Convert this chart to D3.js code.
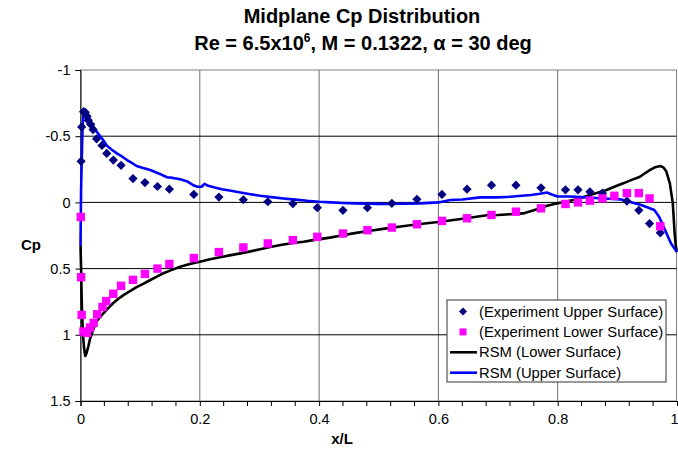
<!DOCTYPE html>
<html>
<head>
<meta charset="utf-8">
<script src="https://cdn.jsdelivr.net/npm/d3@7"></script>
<style>
    body { margin: 0; background: #fff; }
    svg { font-family: Arial, "Liberation Sans", sans-serif; }
</style>
</head>
<body>
<svg id="chart"></svg>
<script>
// Experiment, upper surface (diamonds)
const expUpperX = [0.001, 0.002, 0.005, 0.008, 0.011, 0.013, 0.017, 0.021, 0.027, 0.036, 0.044, 0.055, 0.068,
    0.088, 0.108, 0.129, 0.149, 0.19, 0.232, 0.273, 0.314, 0.356, 0.397, 0.44, 0.481, 0.522, 0.564, 0.606,
    0.648, 0.689, 0.73, 0.772, 0.813, 0.834, 0.854, 0.875, 0.916, 0.936, 0.954, 0.972];
const expUpperCp = [-0.31, -0.57, -0.685, -0.68, -0.65, -0.62, -0.59, -0.55, -0.48, -0.43, -0.37, -0.32, -0.28,
    -0.18, -0.15, -0.12, -0.10, -0.06, -0.04, -0.02, -0.005, 0.01, 0.04, 0.06, 0.04, 0.007, -0.023, -0.06,
    -0.10, -0.13, -0.13, -0.11, -0.095, -0.095, -0.08, -0.07, -0.01, 0.06, 0.16, 0.23];

// Experiment, lower surface (squares)
const expLowerX = [0.0005, 0.001, 0.002, 0.005, 0.011, 0.016, 0.022, 0.028, 0.037, 0.043, 0.055, 0.068, 0.088,
    0.108, 0.129, 0.149, 0.19, 0.232, 0.273, 0.314, 0.356, 0.397, 0.44, 0.481, 0.522, 0.564, 0.606, 0.648,
    0.689, 0.73, 0.772, 0.813, 0.834, 0.854, 0.875, 0.895, 0.916, 0.936, 0.954, 0.972];
const expLowerCp = [0.11, 0.565, 0.85, 0.975, 0.985, 0.945, 0.91, 0.845, 0.79, 0.745, 0.69, 0.63, 0.585,
    0.54, 0.5, 0.465, 0.42, 0.375, 0.34, 0.31, 0.285, 0.26, 0.235, 0.21, 0.19, 0.165, 0.14, 0.12,
    0.095, 0.07, 0.045, 0.012, 0, -0.013, -0.03, -0.05, -0.07, -0.07, -0.03, 0.18];

// RSM, lower surface (black line)
const rsmLowerX = [0, 0.001, 0.002, 0.004, 0.006, 0.008, 0.01, 0.013, 0.016, 0.019, 0.023, 0.027, 0.032, 0.038,
    0.046, 0.055, 0.063, 0.072, 0.083, 0.094, 0.105, 0.117, 0.128, 0.139, 0.15, 0.167, 0.183, 0.2, 0.217,
    0.234, 0.25, 0.268, 0.285, 0.301, 0.318, 0.34, 0.36, 0.374, 0.39, 0.418, 0.44, 0.457, 0.48, 0.513,
    0.54, 0.569, 0.6, 0.625, 0.65, 0.681, 0.7, 0.72, 0.742, 0.76, 0.782, 0.8, 0.81, 0.826, 0.84, 0.854,
    0.868, 0.882, 0.896, 0.91, 0.924, 0.938, 0.946, 0.955, 0.963, 0.972, 0.977, 0.982, 0.988, 0.993,
    0.996, 0.998, 1];
const rsmLowerCp = [0.33, 0.5, 0.74, 0.99, 1.1, 1.16, 1.14, 1.09, 1.03, 0.99, 0.94, 0.9, 0.87, 0.84,
    0.8, 0.76, 0.73, 0.7, 0.67, 0.64, 0.615, 0.586, 0.56, 0.535, 0.515, 0.486, 0.465, 0.448, 0.43,
    0.415, 0.4, 0.385, 0.37, 0.354, 0.337, 0.318, 0.305, 0.297, 0.285, 0.266, 0.248, 0.234, 0.218, 0.196,
    0.18, 0.163, 0.148, 0.133, 0.118, 0.097, 0.095, 0.09, 0.083, 0.06, 0.025, 0.007, -0.002, -0.018, -0.035, -0.056,
    -0.075, -0.094, -0.12, -0.144, -0.17, -0.194, -0.22, -0.245, -0.265, -0.275, -0.265, -0.235, -0.144, 0.007,
    0.233, 0.33, 0.375];

// RSM, upper surface (blue line)
const rsmUpperX = [0, 0.001, 0.003, 0.005, 0.008, 0.011, 0.016, 0.022, 0.027, 0.033, 0.039, 0.044, 0.052,
    0.061, 0.07, 0.078, 0.086, 0.094, 0.105, 0.117, 0.125, 0.133, 0.145, 0.155, 0.167, 0.178, 0.189, 0.196,
    0.203, 0.208, 0.214, 0.225, 0.237, 0.25, 0.268, 0.285, 0.301, 0.32, 0.34, 0.356, 0.38, 0.4, 0.42,
    0.44, 0.46, 0.48, 0.5, 0.513, 0.54, 0.569, 0.6, 0.62, 0.64, 0.67, 0.7, 0.72, 0.74, 0.755, 0.77,
    0.782, 0.79, 0.8, 0.82, 0.84, 0.87, 0.905, 0.92, 0.94, 0.962, 0.97, 0.98, 0.99, 1];
const rsmUpperCp = [0.33, -0.1, -0.5, -0.7, -0.69, -0.67, -0.62, -0.57, -0.535, -0.5, -0.465, -0.43, -0.4,
    -0.37, -0.345, -0.32, -0.298, -0.275, -0.26, -0.245, -0.23, -0.215, -0.19, -0.185, -0.175, -0.16, -0.13, -0.118,
    -0.118, -0.14, -0.125, -0.112, -0.1, -0.09, -0.075, -0.062, -0.05, -0.04, -0.03, -0.023, -0.012, -0.005, 0,
    0.004, 0.007, 0.009, 0.011, 0.012, 0.01, 0.007, 0, -0.018, -0.022, -0.038, -0.038, -0.043, -0.05, -0.056, -0.065,
    -0.075, -0.06, -0.045, -0.045, -0.04, -0.031, -0.023, -0.005, 0.02, 0.057, 0.108, 0.208, 0.31, 0.375];

const xTicks = [0, 0.2, 0.4, 0.6, 0.8, 1];
const yTicks = [-1, -0.5, 0, 0.5, 1, 1.5];

const zip = (xs, ys) => xs.map((x, i) => ({x: x, cp: ys[i]}));

class CpChart {
    constructor(_config) {
        this.config = {
            parentElement: _config.parentElement,
            containerWidth: _config.containerWidth || 678,
            containerHeight: _config.containerHeight || 450,
            margin: {top: 70, right: 1, bottom: 49, left: 80.5}
        };
        this.initVis();
    }

    initVis() {
        let vis = this;

        vis.width = vis.config.containerWidth - vis.config.margin.left - vis.config.margin.right;
        vis.height = vis.config.containerHeight - vis.config.margin.top - vis.config.margin.bottom;

        vis.root = d3.select(vis.config.parentElement)
            .attr('width', vis.config.containerWidth)
            .attr('height', vis.config.containerHeight);

        vis.svg = vis.root.append('g')
            .attr('transform', `translate(${vis.config.margin.left},${vis.config.margin.top})`);

        vis.xScale = d3.scaleLinear().domain([0, 1]).range([0, vis.width]);
        // Cp axis is inverted: -1 at top
        vis.yScale = d3.scaleLinear().domain([-1, 1.5]).range([0, vis.height]);

        // Titles
        const title = vis.root.append('text')
            .attr('text-anchor', 'middle')
            .style('font-weight', 'bold')
            .style('font-size', '20px');
        title.append('tspan').attr('x', 362).attr('y', 23).text('Midplane Cp Distribution');
        const line2 = title.append('tspan').attr('x', 363).attr('y', 50);
        line2.append('tspan').text('Re = 6.5x10');
        line2.append('tspan').attr('dy', -8).style('font-size', '12px').text('6');
        line2.append('tspan').attr('dy', 8).text(', M = 0.1322, \u03b1 = 30 deg');

        vis.renderVis();
    }

    renderVis() {
        let vis = this;

        // Plot border
        vis.svg.append('rect')
            .attr('width', vis.width - 0.5)
            .attr('height', vis.height)
            .attr('fill', 'none')
            .attr('stroke', '#808080');

        // Vertical grid lines
        vis.svg.append('g')
            .selectAll('line')
            .data(xTicks.slice(1, -1))
            .join('line')
                .attr('x1', d => vis.xScale(d)).attr('x2', d => vis.xScale(d))
                .attr('y1', 0).attr('y2', vis.height)
                .attr('stroke', '#6e6e6e');

        // Horizontal grid lines
        vis.svg.append('g')
            .selectAll('line')
            .data(yTicks.slice(1, -1))
            .join('line')
                .attr('x1', 0).attr('x2', vis.width - 0.5)
                .attr('y1', d => vis.yScale(d)).attr('y2', d => vis.yScale(d))
                .attr('stroke', '#000');

        // Axes
        vis.xAxis = d3.axisBottom(vis.xScale)
            .tickValues(xTicks)
            .tickFormat(d => String(d))
            .tickSize(5)
            .tickPadding(8);
        vis.yAxis = d3.axisLeft(vis.yScale)
            .tickValues(yTicks)
            .tickFormat(d => String(d))
            .tickSize(5)
            .tickPadding(5);

        vis.xAxisG = vis.svg.append('g')
            .attr('class', 'axis x-axis')
            .attr('transform', `translate(0,${vis.height})`)
            .call(vis.xAxis);
        vis.xAxisG.append('g')
            .selectAll('line')
            .data(d3.range(0, 1.001, 0.04).filter(v => Math.abs(v * 5 - Math.round(v * 5)) > 1e-6))
            .join('line')
                .attr('x1', d => vis.xScale(d)).attr('x2', d => vis.xScale(d))
                .attr('y1', 0).attr('y2', 5)
                .attr('stroke', '#000');

        vis.yAxisG = vis.svg.append('g')
            .attr('class', 'axis y-axis')
            .call(vis.yAxis);

        [vis.xAxisG, vis.yAxisG].forEach(g => {
            g.select('.domain').attr('stroke', '#000');
            g.selectAll('.tick line').attr('stroke', '#000');
            g.selectAll('.tick text')
                .attr('fill', '#000')
                .style('font-size', '14.5px')
                .style('font-family', 'Arial, "Liberation Sans", sans-serif');
        });
        // keep the last x label inside the window
        vis.xAxisG.selectAll('.tick text')
            .filter(d => d === 1)
            .attr('text-anchor', 'end')
            .attr('x', 1);

        // Axis titles
        vis.root.append('text')
            .attr('x', 31).attr('y', 250)
            .attr('text-anchor', 'middle')
            .style('font-weight', 'bold')
            .style('font-size', '15px')
            .text('Cp');
        vis.root.append('text')
            .attr('x', 342).attr('y', 444)
            .attr('text-anchor', 'middle')
            .style('font-weight', 'bold')
            .style('font-size', '15px')
            .text('x/L');

        // RSM lines
        const line = d3.line()
            .x(d => vis.xScale(d.x))
            .y(d => vis.yScale(d.cp));

        vis.svg.append('path')
            .datum(zip(rsmLowerX, rsmLowerCp))
            .attr('fill', 'none')
            .attr('stroke', '#000')
            .attr('stroke-width', 2.6)
            .attr('stroke-linejoin', 'round')
            .attr('d', line);

        vis.svg.append('path')
            .datum(zip(rsmUpperX, rsmUpperCp))
            .attr('fill', 'none')
            .attr('stroke', '#0000ff')
            .attr('stroke-width', 2.6)
            .attr('stroke-linejoin', 'round')
            .attr('d', line);

        // Experiment markers
        const diamond = r => `M0,${-r}L${r},0L0,${r}L${-r},0Z`;

        vis.svg.append('g')
            .selectAll('path')
            .data(zip(expUpperX, expUpperCp))
            .join('path')
                .attr('transform', d => `translate(${vis.xScale(d.x)},${vis.yScale(d.cp)})`)
                .attr('d', diamond(4.6))
                .attr('fill', '#000080');

        vis.svg.append('g')
            .selectAll('rect')
            .data(zip(expLowerX, expLowerCp))
            .join('rect')
                .attr('x', d => vis.xScale(d.x) - 4.2)
                .attr('y', d => vis.yScale(d.cp) - 4.2)
                .attr('width', 8.4)
                .attr('height', 8.4)
                .attr('fill', '#ff00ff');

        vis.renderLegend();
    }

    renderLegend() {
        let vis = this;

        const legend = vis.root.append('g')
            .attr('transform', 'translate(447,300)');
        legend.append('rect')
            .attr('width', 219)
            .attr('height', 82)
            .attr('fill', '#fff')
            .attr('stroke', '#333');

        const items = [
            {label: '(Experiment Upper Surface)', type: 'diamond', color: '#000080'},
            {label: '(Experiment Lower Surface)', type: 'square', color: '#ff00ff'},
            {label: 'RSM (Lower Surface)', type: 'line', color: '#000'},
            {label: 'RSM (Upper Surface)', type: 'line', color: '#0000ff'}
        ];

        const rows = legend.selectAll('g')
            .data(items)
            .join('g')
                .attr('transform', (d, i) => `translate(0,${11.5 + i * 20.4})`);

        rows.filter(d => d.type === 'diamond').append('path')
            .attr('d', 'M16,-4L20,0L16,4L12,0Z')
            .attr('fill', d => d.color);
        rows.filter(d => d.type === 'square').append('rect')
            .attr('x', 12.5).attr('y', -3.5)
            .attr('width', 7).attr('height', 7)
            .attr('fill', d => d.color);
        rows.filter(d => d.type === 'line').append('line')
            .attr('x1', 3).attr('x2', 30)
            .attr('stroke', d => d.color)
            .attr('stroke-width', 2.6);

        rows.append('text')
            .attr('x', 32)
            .attr('dy', '0.35em')
            .style('font-size', '14.8px')
            .text(d => d.label);
    }
}

new CpChart({parentElement: '#chart'});
</script>
</body>
</html>
